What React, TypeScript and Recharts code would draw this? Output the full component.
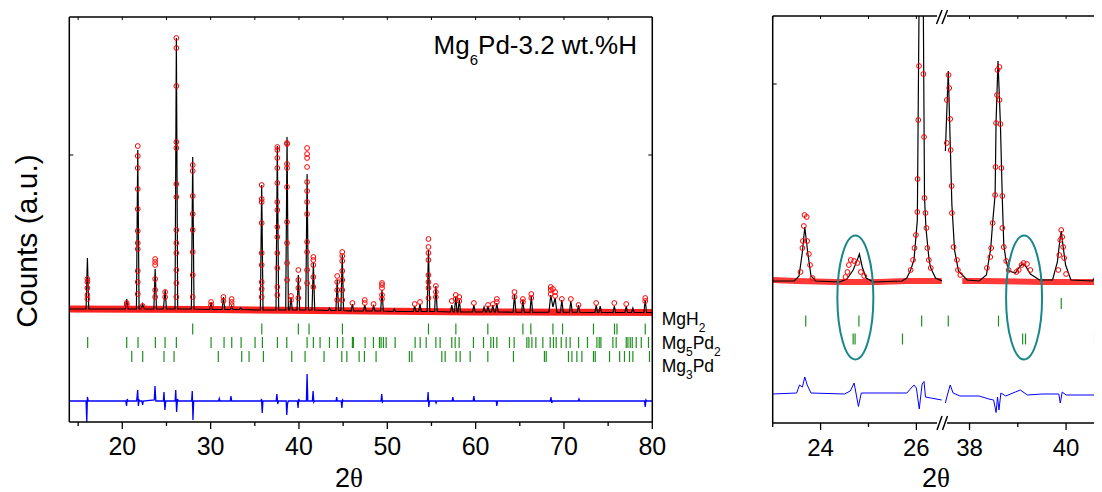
import React from 'react';
import { ComposedChart, Line, Scatter, XAxis, YAxis, ReferenceDot } from 'recharts';

const FONT = '"Liberation Sans", Arial, Helvetica, sans-serif';
const AXIS = { stroke: '#000', strokeWidth: 1.5 };

// ---------- full pattern (2θ 14–80) ----------
const fullTicks = [15, 20, 25, 30, 35, 40, 45, 50, 55, 60, 65, 70, 75, 80];
const fullLabels = [20, 30, 40, 50, 60, 70, 80];

// observed background (dense circles)
const bandFull = [[14, 2260], [30, 2250], [45, 2225], [60, 2200], [80, 2190]];

// calculated profile
const calcFull = [
  [14, 2260], [15.9, 2260], [16.05, 3280], [16.2, 2260],
  [20.35, 2260], [20.5, 2460], [20.65, 2260],
  [21.6, 2260], [21.75, 5440], [21.9, 2260],
  [22.15, 2260], [22.3, 2360], [22.45, 2260],
  [23.57, 2260], [23.72, 3060], [23.87, 2260],
  [24.65, 2260], [24.85, 2640], [25.0, 2260],
  [25.97, 2260], [26.12, 7680], [26.27, 2260],
  [27.82, 2260], [27.97, 5300], [28.12, 2260],
  [29.9, 2250], [30.05, 2400], [30.2, 2250],
  [31.3, 2250], [31.45, 2500], [31.6, 2250],
  [32.23, 2250], [32.38, 2320], [32.53, 2250],
  [33.25, 2250], [33.4, 2280], [33.55, 2250],
  [35.63, 2240], [35.78, 4740], [35.93, 2240],
  [37.4, 2240], [37.55, 5520], [37.7, 2240],
  [38.5, 2240], [38.65, 5700], [38.8, 2240],
  [38.95, 2240], [39.1, 2480], [39.25, 2240],
  [39.78, 2240], [39.93, 2940], [40.08, 2240],
  [40.77, 2240], [40.92, 4960], [41.07, 2240],
  [41.48, 2240], [41.63, 3180], [41.78, 2240],
  [43.3, 2230], [43.45, 2280], [43.6, 2230],
  [44.18, 2230], [44.33, 2840], [44.48, 2230],
  [44.75, 2230], [44.9, 3340], [45.05, 2230],
  [45.9, 2220], [46.05, 2360], [46.2, 2220],
  [47.3, 2220], [47.45, 2340], [47.6, 2220],
  [48.3, 2220], [48.45, 2320], [48.6, 2220],
  [49.25, 2220], [49.4, 2640], [49.55, 2220],
  [50.65, 2210], [50.8, 2260], [50.95, 2210],
  [52.95, 2210], [53.1, 2320], [53.25, 2210],
  [53.55, 2210], [53.7, 2360], [53.85, 2210],
  [54.51, 2210], [54.66, 3440], [54.81, 2210],
  [55.35, 2210], [55.5, 2720], [55.65, 2210],
  [57.15, 2200], [57.3, 2340], [57.45, 2200],
  [57.6, 2200], [57.75, 2500], [57.9, 2200],
  [58.0, 2200], [58.15, 2440], [58.3, 2200],
  [59.65, 2200], [59.8, 2340], [59.95, 2200],
  [60.8, 2200], [60.95, 2300], [61.1, 2200],
  [61.25, 2200], [61.4, 2320], [61.55, 2200],
  [61.8, 2200], [61.95, 2340], [62.1, 2200],
  [62.25, 2200], [62.4, 2380], [62.55, 2200],
  [64.25, 2195], [64.4, 2560], [64.55, 2195],
  [65.2, 2195], [65.35, 2440], [65.5, 2195],
  [66.15, 2195], [66.3, 2520], [66.45, 2195],
  [68.3, 2195], [68.5, 2540], [68.75, 2300], [69.0, 2480], [69.2, 2195],
  [69.6, 2195], [69.76, 2440], [69.92, 2195],
  [70.62, 2195], [70.78, 2420], [70.94, 2195],
  [71.5, 2195], [71.65, 2340], [71.8, 2195],
  [73.5, 2190], [73.65, 2340], [73.8, 2190],
  [73.95, 2190], [74.1, 2320], [74.25, 2190],
  [75.55, 2190], [75.7, 2320], [75.85, 2190],
  [76.9, 2190], [77.05, 2320], [77.2, 2190],
  [77.65, 2190], [77.8, 2280], [77.95, 2190],
  [79.05, 2190], [79.2, 2440], [79.35, 2190],
  [80, 2190],
];

// observed points on the peaks: [2θ, counts...]
const obsFull: [number, number[]][] = [
  [16.05, [2860, 2800, 2680, 2540, 2460]],
  [20.5, [2380, 2340]],
  [21.75, [5520, 5320, 5080, 4660, 4260, 3820, 3580, 3460, 3020, 2800, 2560]],
  [22.3, [2320]],
  [23.72, [3260, 3200, 3140, 2860, 2640, 2500]],
  [24.85, [2600, 2500]],
  [26.12, [7680, 7480, 6720, 5600, 5480, 4760, 4500, 3840, 3580, 3380, 3040, 2780, 2500]],
  [27.97, [5140, 5020, 4520, 4160, 3840, 3400, 2940, 2500]],
  [30.05, [2400, 2340]],
  [31.45, [2500, 2420]],
  [32.38, [2460, 2400, 2340]],
  [35.78, [4740, 4460, 4400, 3980, 3380, 3140, 2800, 2660, 2500]],
  [37.55, [5500, 5440, 5280, 5080, 4780, 4400, 4240, 3900, 3700, 3380, 3080, 2700, 2540]],
  [38.65, [5580, 5560, 5160, 5080, 4700, 4000, 3580, 3180, 2840]],
  [39.1, [2520, 2440]],
  [39.93, [3040, 2840, 2680, 2480]],
  [40.92, [5480, 5360, 5280, 5100, 4800, 4620, 4400, 4160, 3600, 3400, 3040, 2780]],
  [41.63, [3300, 3240, 3140, 2900, 2700]],
  [44.33, [2920, 2800, 2640, 2440]],
  [44.9, [3400, 3320, 3220, 3020, 2840, 2640, 2440]],
  [46.05, [2380]],
  [47.45, [2440, 2380]],
  [48.45, [2360]],
  [49.4, [2780, 2740, 2680, 2540, 2460]],
  [53.1, [2360]],
  [53.7, [2400]],
  [54.66, [3660, 3500, 3380, 3240, 2940, 2800, 2680, 2480]],
  [55.5, [2720, 2600, 2500]],
  [57.3, [2420]],
  [57.75, [2540, 2460]],
  [58.15, [2500, 2420]],
  [59.8, [2380]],
  [61.4, [2340]],
  [61.95, [2360]],
  [62.4, [2460, 2400]],
  [64.4, [2600, 2500]],
  [65.35, [2460, 2400]],
  [66.3, [2560, 2480]],
  [68.5, [2700, 2640, 2560]],
  [68.75, [2660]],
  [69.0, [2600, 2520]],
  [69.76, [2460]],
  [70.78, [2460]],
  [71.65, [2340]],
  [73.65, [2380]],
  [75.7, [2380]],
  [77.05, [2360]],
  [79.2, [2480, 2420]],
];

// difference curve
const diffFull = [
  [14, 420], [15.9, 420], [15.98, 0], [16.05, 500], [16.15, 420],
  [20.4, 420], [20.48, 320], [20.56, 460], [20.65, 420],
  [21.62, 420], [21.68, 520], [21.74, 640], [21.82, 320], [21.9, 440], [22.0, 420],
  [22.22, 420], [22.3, 340], [22.38, 420],
  [23.62, 440], [23.7, 720], [23.8, 420],
  [24.65, 420], [24.72, 600], [24.82, 240], [24.92, 420],
  [25.98, 420], [26.05, 640], [26.15, 200], [26.25, 460], [26.35, 420],
  [27.85, 420], [27.92, 620], [28.0, 40], [28.08, 420],
  [30.9, 420], [30.98, 470], [31.05, 420],
  [32.22, 420], [32.3, 520], [32.38, 420],
  [35.7, 420], [35.76, 460], [35.84, 180], [35.92, 420],
  [37.42, 420], [37.5, 560], [37.6, 360], [37.68, 420],
  [38.55, 420], [38.62, 140], [38.7, 360], [38.78, 420],
  [39.82, 420], [39.9, 280], [39.98, 460], [40.06, 420],
  [40.84, 420], [40.92, 960], [41.0, 420],
  [41.52, 420], [41.6, 620], [41.68, 400], [41.76, 420],
  [44.2, 420], [44.27, 500], [44.34, 420],
  [44.78, 420], [44.86, 280], [44.94, 440], [45.02, 420],
  [49.3, 420], [49.37, 560], [49.45, 400], [49.52, 420],
  [54.55, 420], [54.62, 600], [54.7, 300], [54.78, 420],
  [55.45, 420], [55.52, 380], [55.6, 420],
  [57.35, 420], [57.42, 500], [57.5, 420],
  [59.72, 420], [59.8, 520], [59.88, 420],
  [62.33, 420], [62.4, 320], [62.48, 420],
  [68.45, 420], [68.52, 500], [68.62, 380], [68.7, 420],
  [71.62, 420], [71.7, 460], [71.78, 420],
  [79.12, 420], [79.2, 300], [79.28, 440], [79.36, 420],
  [80, 420],
];

// Bragg positions
const mgh2Full = [27.97, 35.79, 39.93, 41.14, 44.92, 54.66, 57.76, 61.38, 65.35, 66.25, 68.75, 69.84, 73.34, 75.72, 76.0, 79.2];
const mg5pd2Full = [
  16.08, 20.5, 21.78, 23.74, 24.84, 26.12, 30.05, 31.52, 32.39, 33.45, 35.03, 35.86, 37.56, 38.62, 40.92, 41.63,
  42.39, 43.45, 44.35, 44.96, 46.05, 46.16, 47.49, 48.43, 49.11, 49.3, 49.56, 49.87, 50.89, 53.15, 53.72, 54.4,
  55.5, 55.98, 57.3, 57.68, 58.13, 59.75, 60.89, 61.72, 62.02, 62.4, 63.83, 64.36, 65.8, 66.03, 66.37, 66.82,
  67.61, 68.44, 68.81, 69.12, 69.69, 70.25, 70.7, 71.65, 72.66, 73.73, 73.99, 74.18, 75.54, 75.91, 77.05, 77.24,
  77.5, 77.73, 78.18, 78.75, 79.57,
];
const mg3pdFull = [
  21.07, 22.31, 24.72, 25.86, 30.87, 33.52, 34.35, 35.97, 39.18, 40.69, 42.84, 44.85, 45.42, 46.81, 47.41, 48.73,
  52.5, 52.78, 56.17, 56.55, 57.79, 58.25, 59.38, 61.38, 64.28, 67.79, 67.99, 70.51, 70.9, 71.46, 72.03, 73.34,
  73.54, 75.16, 76.3, 76.85, 77.42, 77.8, 79.68,
];
const rowsFull = { mgh2: 1860, mg5pd2: 1590, mg3pd: 1310 };

// ---------- zoomed view (broken axis 23–26.5 // 37.4–41) ----------
const bandZoom = [
  [23.0, 2860], [23.5, 2840], [24.3, 2820], [25.2, 2820], [25.8, 2840], [26.53, 2840],
  [37.85, 2840], [38.3, 2840], [39.5, 2820], [40.5, 2820], [41.2, 2840],
];
const calcZoom = [
  [23.0, 2840], [23.45, 2840], [23.55, 2940], [23.62, 3420], [23.67, 3920], [23.73, 3420], [23.8, 2940], [23.9, 2840],
  [24.4, 2820], [24.55, 2880], [24.68, 3060], [24.78, 3300], [24.81, 3380], [24.87, 3120], [24.95, 2900], [25.1, 2820],
  [25.7, 2840], [25.8, 2900], [25.88, 3060], [25.95, 3260], [26.02, 4060], [26.054, 8140], [26.1, 16460],
  [26.146, 8140], [26.17, 4500], [26.2, 3900], [26.265, 3260], [26.3, 3100], [26.4, 2900], [26.535, 2840],
  [37.5, 5440], [37.56, 7040], [37.635, 4360], [37.69, 3460], [37.77, 3040], [37.95, 2860], [38.2, 2840],
  [38.35, 2960], [38.44, 3500], [38.48, 4020], [38.53, 4560], [38.55, 6020], [38.59, 7240], [38.64, 5980],
  [38.68, 4460], [38.71, 3560], [38.76, 3220], [38.82, 3040], [38.95, 3000], [39.02, 3100], [39.09, 3180],
  [39.16, 3140], [39.26, 2980], [39.45, 2860], [39.72, 2860], [39.82, 3220], [39.86, 3560], [39.9, 3840],
  [39.94, 3520], [39.99, 3160], [40.1, 2860], [40.55, 2840], [40.65, 3020], [40.72, 3660], [40.8, 5460],
  [40.87, 8140], [40.92, 12460], [40.97, 8140], [41.05, 4460], [41.15, 3060], [41.2, 2900],
];
const obsZoom = [
  [23.665, 4160], [23.71, 4120], [23.65, 3940], [23.63, 3640], [23.72, 3640], [23.62, 3500], [23.755, 3380],
  [23.78, 3160], [23.58, 3020], [23.83, 2900],
  [24.63, 3260], [24.7, 3240], [24.59, 3160], [24.77, 3200], [24.56, 3020], [24.84, 3020], [24.52, 2920], [24.91, 2940],
  [26.055, 7140], [26.147, 6980], [26.04, 6060], [26.16, 5720], [26.025, 4880], [26.17, 4500], [26.02, 4220],
  [26.19, 4200], [25.99, 3760], [26.21, 3900], [25.96, 3500], [26.23, 3500], [25.93, 3260], [26.26, 3260],
  [25.88, 3060], [26.3, 3100],
  [37.565, 6960], [37.58, 6700], [37.53, 6460], [37.6, 6080], [37.53, 5600], [37.61, 5460], [37.63, 4740],
  [37.635, 4200], [37.67, 3520], [37.74, 3260], [37.76, 3060], [37.81, 2960],
  [38.58, 7060], [38.62, 7120], [38.57, 6560], [38.62, 6460], [38.55, 6000], [38.64, 5980], [38.54, 5120],
  [38.66, 5100], [38.53, 4560], [38.68, 4540], [38.48, 4000], [38.45, 3500], [38.43, 3320], [38.36, 3100],
  [38.68, 3900], [38.71, 3520], [38.76, 3240], [38.81, 3060],
  [38.97, 3020], [39.02, 3060], [39.08, 3160], [39.12, 3200], [39.19, 3180], [39.26, 3060],
  [39.84, 3060], [39.86, 3360], [39.88, 3660], [39.9, 3860], [39.92, 3720], [39.94, 3520], [39.96, 3300], [40.0, 2980],
  [40.7, 3020], [40.73, 3200], [40.75, 3860],
];
const diffZoom = [
  [23.0, 580], [23.5, 600], [23.56, 760], [23.62, 720], [23.67, 920], [23.72, 760], [23.8, 600], [24.5, 580],
  [24.62, 640], [24.7, 800], [24.75, 540], [24.79, 330], [24.85, 600], [25.8, 600], [25.95, 760], [26.0, 700],
  [26.06, 280], [26.12, 780], [26.16, 830], [26.19, 520], [26.3, 500], [26.53, 460],
  [37.5, 400], [37.53, 520], [37.6, 760], [37.66, 600], [37.8, 540], [38.2, 540], [38.4, 480], [38.5, 460],
  [38.55, 210], [38.58, 520], [38.61, 260], [38.65, 600], [38.75, 540], [38.95, 620], [39.05, 660], [39.2, 560],
  [39.5, 580], [39.85, 580], [39.88, 400], [39.92, 620], [40.0, 560], [40.7, 560], [41.2, 580],
];
const mgh2Zoom = [39.9];
const mg5pd2Zoom = [23.69, 24.8, 26.11, 37.56, 38.6];
const mg3pdZoom = [24.68, 24.72, 25.71, 39.1, 39.16, 40.59];
const rowsZoom = { mgh2: 2390, mg5pd2: 2040, mg3pd: 1680 };
const circledPeaks = [[24.726, 2510], [39.13, 2510]];

// ---------- helpers ----------
const pts = (a: number[][]) => a.map(([x, y]) => ({ x, y }));
const groupPts = (g: [number, number[]][]) => g.flatMap(([x, ys]) => ys.map((y) => ({ x, y })));
const rowPts = (xs: number[], y: number) => xs.map((x) => ({ x, y }));
const within = (a: { x: number; y: number }[], lo: number, hi: number) => a.filter((p) => p.x >= lo && p.x <= hi);

const Ring = (p: any) => <circle cx={p.cx} cy={p.cy} r={2.4} fill="none" stroke="#ff0000" strokeWidth={1} />;
const Marker = (p: any) => (
  <line x1={p.cx} x2={p.cx} y1={p.cy - 5.5} y2={p.cy + 5.5} stroke="#1f8f1f" strokeWidth={1.2} />
);

const BottomTick = ({ x, y, payload, labels, fontSize }: any) => {
  const major = labels.includes(payload.value);
  return (
    <g>
      <line x1={x} x2={x} y1={y} y2={y + (major ? 7 : 4)} stroke="#000" strokeWidth={1.3} />
      {major && (
        <text x={x} y={y + 33} textAnchor="middle" fontSize={fontSize} fontFamily={FONT} fill="#000">
          {payload.value}
        </text>
      )}
    </g>
  );
};
const TopTick = ({ x, y }: any) => <line x1={x} x2={x} y1={y} y2={y + 3} stroke="#000" strokeWidth={1} />;
const LeftTick = ({ x, y }: any) => <line x1={x} x2={x + 4} y1={y} y2={y} stroke="#000" strokeWidth={1} />;
const RightTick = ({ x, y }: any) => <line x1={x - 4} x2={x} y1={y} y2={y} stroke="#000" strokeWidth={1} />;

function FullPattern() {
  const dom: [number, number] = [14, 80];
  return (
    <ComposedChart width={750} height={476} margin={{ top: 5, right: 95.7, bottom: 22, left: 51.3 }}>
      <XAxis type="number" dataKey="x" domain={dom} ticks={fullTicks} interval={0} allowDataOverflow height={40}
        tickSize={0} tickMargin={0} tickLine={false} axisLine={AXIS}
        tick={(p: any) => <BottomTick {...p} labels={fullLabels} fontSize={25} />} />
      <XAxis xAxisId="top" orientation="top" type="number" dataKey="x" domain={dom} ticks={fullTicks} interval={0}
        allowDataOverflow height={4} tickSize={0} tickMargin={0} tickLine={false} axisLine={AXIS} tick={TopTick} />
      <YAxis type="number" dataKey="y" domain={[0, 8100]} ticks={[5340]} allowDataOverflow width={10}
        tickSize={0} tickMargin={0} tickLine={false} axisLine={AXIS} tick={LeftTick} />
      <YAxis yAxisId="r" orientation="right" type="number" domain={[0, 8100]} ticks={[5340]} allowDataOverflow width={10}
        tickSize={0} tickMargin={0} tickLine={false} axisLine={AXIS} tick={RightTick} />
      <Line data={pts(bandFull)} dataKey="y" type="linear" stroke="#ff2020" strokeWidth={7} dot={false} isAnimationActive={false} />
      <Line data={pts(calcFull)} dataKey="y" type="linear" stroke="#000" strokeWidth={1.2} dot={false} isAnimationActive={false} />
      <Scatter data={groupPts(obsFull)} dataKey="y" shape={Ring} isAnimationActive={false} />
      <Line data={pts(diffFull)} dataKey="y" type="linear" stroke="#0000ff" strokeWidth={1.3} dot={false} isAnimationActive={false} />
      <Scatter data={rowPts(mgh2Full, rowsFull.mgh2)} dataKey="y" shape={Marker} isAnimationActive={false} />
      <Scatter data={rowPts(mg5pd2Full, rowsFull.mg5pd2)} dataKey="y" shape={Marker} isAnimationActive={false} />
      <Scatter data={rowPts(mg3pdFull, rowsFull.mg3pd)} dataKey="y" shape={Marker} isAnimationActive={false} />
    </ComposedChart>
  );
}

function ZoomSegment({ domain, ticks, labels, leftAxis }: { domain: [number, number]; ticks: number[]; labels: number[]; leftAxis: boolean }) {
  const [lo, hi] = domain;
  const cut = (a: number[][]) => within(pts(a), lo, hi);
  return (
    <ComposedChart width={182} height={476} margin={{ top: 4, right: 0, bottom: 21, left: leftAxis ? 2.7 : 0 }}>
      <XAxis type="number" dataKey="x" domain={domain} ticks={ticks} interval={0} allowDataOverflow height={40}
        tickSize={0} tickMargin={0} tickLine={false} axisLine={AXIS}
        tick={(p: any) => <BottomTick {...p} labels={labels} fontSize={24} />} />
      <XAxis xAxisId="top" orientation="top" type="number" dataKey="x" domain={domain} ticks={ticks} interval={0}
        allowDataOverflow height={4} tickSize={0} tickMargin={0} tickLine={false} axisLine={AXIS} tick={TopTick} />
      <YAxis type="number" dataKey="y" domain={[0, 8140]} ticks={[6780]} allowDataOverflow width={10} hide={!leftAxis}
        tickSize={0} tickMargin={0} tickLine={false} axisLine={AXIS} tick={LeftTick} />
      <Line data={cut(bandZoom)} dataKey="y" type="linear" stroke="#ff3838" strokeWidth={6} dot={false} isAnimationActive={false} />
      <Line data={cut(calcZoom)} dataKey="y" type="linear" stroke="#000" strokeWidth={1.2} dot={false} isAnimationActive={false} />
      <Scatter data={cut(obsZoom)} dataKey="y" shape={Ring} isAnimationActive={false} />
      <Line data={cut(diffZoom)} dataKey="y" type="linear" stroke="#0000ff" strokeWidth={1} dot={false} isAnimationActive={false} />
      <Scatter data={within(rowPts(mgh2Zoom, rowsZoom.mgh2), lo, hi)} dataKey="y" shape={Marker} isAnimationActive={false} />
      <Scatter data={within(rowPts(mg5pd2Zoom, rowsZoom.mg5pd2), lo, hi)} dataKey="y" shape={Marker} isAnimationActive={false} />
      <Scatter data={within(rowPts(mg3pdZoom, rowsZoom.mg3pd), lo, hi)} dataKey="y" shape={Marker} isAnimationActive={false} />
      {circledPeaks.filter(([x]) => x >= lo && x <= hi).map(([x, y]) => (
        <ReferenceDot key={x} x={x} y={y} shape={(p: any) => (
          <ellipse cx={p.cx} cy={p.cy} rx={18} ry={62} fill="none" stroke="#17878a" strokeWidth={2} />
        )} />
      ))}
    </ComposedChart>
  );
}

const Phase = ({ x, y, parts }: { x: number; y: number; parts: [string, boolean][] }) => (
  <text x={x} y={y} fontSize={17.5} fontFamily={FONT} fill="#000">
    {parts.map(([t, sub], i) => (
      <tspan key={i} fontSize={sub ? 12 : 17.5} dy={sub ? 7 : i > 0 && parts[i - 1][1] ? -7 : 0}>{t}</tspan>
    ))}
  </text>
);

export default function App() {
  return (
    <div style={{ position: 'relative', width: 1094, height: 484, overflow: 'hidden', background: '#fff' }}>
      <div style={{ position: 'absolute', left: 0, top: 0 }}>
        <FullPattern />
      </div>
      <div style={{ position: 'absolute', left: 752, top: 0 }}>
        <ZoomSegment domain={[23, 26.535]} ticks={[23, 24, 25, 26]} labels={[24, 26]} leftAxis />
      </div>
      <div style={{ position: 'absolute', left: 934, top: 0 }}>
        <ZoomSegment domain={[37.43, 41.2]} ticks={[38, 39, 40, 41]} labels={[38, 40]} leftAxis={false} />
      </div>
      <svg width={1094} height={484} style={{ position: 'absolute', left: 0, top: 0, pointerEvents: 'none' }}>
        <text x={29} y={233} transform="rotate(-90 29 233)" textAnchor="middle" fontSize={30} fontFamily={FONT}>
          Counts (a.u.)
        </text>
        <text x={341} y={479} textAnchor="middle" fontSize={27} fontFamily={FONT}>
          2<tspan fontFamily='"Liberation Serif", "Times New Roman", serif'>θ</tspan>
        </text>
        <text x={928} y={479} textAnchor="middle" fontSize={27} fontFamily={FONT}>
          2<tspan fontFamily='"Liberation Serif", "Times New Roman", serif'>θ</tspan>
        </text>
        <text x={629} y={46} textAnchor="end" fontSize={26} fontFamily={FONT}>
          Mg<tspan fontSize={15} dy={11}>6</tspan><tspan dy={-11}>Pd-3.2 wt.%H</tspan>
        </text>
        <Phase x={653.7} y={317} parts={[['MgH', false], ['2', true]]} />
        <Phase x={653.7} y={341} parts={[['Mg', false], ['5', true], ['Pd', false], ['2', true]]} />
        <Phase x={653.7} y={364.3} parts={[['Mg', false], ['3', true], ['Pd', false]]} />
        {/* axis breaks */}
        <rect x={929} y={4} width={10} height={8} fill="#fff" />
        <line x1={928.5} y1={16} x2={934} y2={2} stroke="#000" strokeWidth={1.5} />
        <line x1={934} y1={16} x2={939.5} y2={2} stroke="#000" strokeWidth={1.5} />
        <rect x={929} y={411} width={10} height={8} fill="#fff" />
        <line x1={929} y1={422} x2={934} y2={408} stroke="#000" strokeWidth={1.5} />
        <line x1={934.5} y1={422} x2={939.5} y2={408} stroke="#000" strokeWidth={1.5} />
      </svg>
    </div>
  );
}
